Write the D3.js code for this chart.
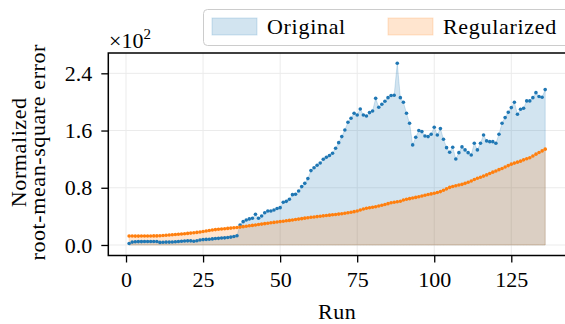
<!DOCTYPE html>
<html>
<head>
<meta charset="utf-8">
<script src="https://cdn.jsdelivr.net/npm/d3@7"></script>
<style>
  body { margin: 0; background: #fff; }
  svg text { font-family: "Liberation Serif", "DejaVu Serif", serif; fill: #000; }
</style>
</head>
<body>
<svg id="chart" width="565" height="324"></svg>
<script>
// Values are in units of 10^2 (see the "x10^2" note on the y axis)
var original = [
  0.020, 0.040, 0.045, 0.047, 0.047, 0.048, 0.048, 0.048, 0.048, 0.048,
  0.036, 0.038, 0.040, 0.040, 0.042, 0.045, 0.048, 0.052, 0.056, 0.058,
  0.058, 0.052, 0.060, 0.070, 0.075, 0.078, 0.080, 0.085, 0.090, 0.093,
  0.097, 0.100, 0.105, 0.110, 0.118, 0.130, 0.280, 0.326, 0.350, 0.365,
  0.373, 0.430, 0.373, 0.405, 0.450, 0.475, 0.475, 0.490, 0.510, 0.522,
  0.597, 0.610, 0.640, 0.704, 0.709, 0.755, 0.816, 0.862, 0.928, 1.040,
  1.080, 1.114, 1.147, 1.198, 1.226, 1.250, 1.282, 1.352, 1.431, 1.515,
  1.608, 1.716, 1.772, 1.841, 1.818, 1.902, 1.818, 1.804, 1.851, 1.874,
  2.050, 1.925, 1.967, 2.009, 2.060, 2.089, 2.093, 2.540, 2.060, 1.995,
  1.841, 1.702, 1.399, 1.506, 1.600, 1.585, 1.524, 1.515, 1.548, 1.646,
  1.538, 1.627, 1.478, 1.361, 1.296, 1.366, 1.203, 1.291, 1.371, 1.329,
  1.291, 1.259, 1.422, 1.329, 1.422, 1.538, 1.455, 1.445, 1.445, 1.422,
  1.548, 1.702, 1.781, 1.855, 1.921, 1.995, 1.828, 1.897, 1.911, 2.014,
  2.014, 2.060, 2.130, 2.075, 2.065, 2.172
];
var regularized = [
  0.125, 0.125, 0.124, 0.124, 0.125, 0.125, 0.126, 0.126, 0.127, 0.127,
  0.130, 0.133, 0.136, 0.140, 0.143, 0.147, 0.151, 0.154, 0.158, 0.162,
  0.166, 0.171, 0.176, 0.182, 0.189, 0.196, 0.203, 0.210, 0.215, 0.220,
  0.224, 0.228, 0.232, 0.236, 0.240, 0.245, 0.250, 0.256, 0.262, 0.268,
  0.274, 0.280, 0.286, 0.292, 0.298, 0.304, 0.310, 0.316, 0.321, 0.327,
  0.332, 0.338, 0.344, 0.350, 0.356, 0.362, 0.368, 0.375, 0.381, 0.387,
  0.392, 0.397, 0.402, 0.407, 0.412, 0.417, 0.422, 0.427, 0.432, 0.437,
  0.443, 0.450, 0.458, 0.466, 0.475, 0.490, 0.503, 0.513, 0.520, 0.527,
  0.534, 0.545, 0.556, 0.566, 0.578, 0.590, 0.598, 0.604, 0.612, 0.628,
  0.640, 0.648, 0.656, 0.665, 0.675, 0.685, 0.695, 0.705, 0.714, 0.723,
  0.734, 0.746, 0.765, 0.785, 0.805, 0.818, 0.828, 0.838, 0.848, 0.862,
  0.877, 0.895, 0.915, 0.932, 0.948, 0.963, 0.980, 1.000, 1.018, 1.035,
  1.053, 1.070, 1.090, 1.110, 1.130, 1.145, 1.158, 1.172, 1.190, 1.205,
  1.220, 1.245, 1.270, 1.292, 1.315, 1.340
];
var xTicks = [0, 25, 50, 75, 100, 125];
var yTicks = [0.0, 0.8, 1.6, 2.4];
var seriesNames = ["Original", "Regularized"];
var colors = ["#1f77b4", "#ff7f0e"];

var runs = d3.range(1, original.length + 1);

var svg = d3.select("#chart");

var plotLeft = 108.3, plotRight = 566, plotTop = 53, plotBottom = 255.5;

var x = d3.scaleLinear().domain([-5.75, 142.75]).range([plotLeft, plotRight]);
var y = d3.scaleLinear().domain([-0.147, 2.684]).range([plotBottom, plotTop]);

// grid
var grid = svg.append("g");
grid.selectAll(".gx").data(xTicks).enter().append("line")
  .attr("x1", d => x(d)).attr("x2", d => x(d))
  .attr("y1", plotTop).attr("y2", plotBottom)
  .attr("stroke", "#ebebeb").attr("stroke-width", 1);
grid.selectAll(".gy").data(yTicks).enter().append("line")
  .attr("x1", plotLeft).attr("x2", plotRight)
  .attr("y1", d => y(d)).attr("y2", d => y(d))
  .attr("stroke", "#ebebeb").attr("stroke-width", 1);

var area = d3.area()
  .x((d, i) => x(runs[i]))
  .y0(y(0))
  .y1(d => y(d));

[original, regularized].forEach(function (vals, k) {
  svg.append("path")
    .datum(vals)
    .attr("d", area)
    .attr("fill", colors[k])
    .attr("fill-opacity", 0.2)
    .attr("stroke", colors[k])
    .attr("stroke-opacity", 0.2)
    .attr("stroke-width", 1);
});

[original, regularized].forEach(function (vals, k) {
  svg.append("g").selectAll("circle")
    .data(vals)
    .enter().append("circle")
    .attr("cx", (d, i) => x(runs[i]))
    .attr("cy", d => y(d))
    .attr("r", 1.8)
    .attr("fill", colors[k]);
});

// axes
var xAxis = svg.append("g")
  .attr("transform", "translate(0," + plotBottom + ")")
  .call(d3.axisBottom(x).tickValues(xTicks).tickSize(7).tickPadding(9).tickFormat(d3.format("d")));
var yAxis = svg.append("g")
  .attr("transform", "translate(" + plotLeft + ",0)")
  .call(d3.axisLeft(y).tickValues(yTicks).tickSize(7).tickPadding(9).tickFormat(d3.format(".1f")));
[xAxis, yAxis].forEach(function (a) {
  a.select(".domain").remove();
  a.selectAll("line").attr("stroke", "#000").attr("stroke-width", 1.3);
  a.selectAll("text").style("font-size", "22px")
    .style("font-family", "'Liberation Serif', serif");
});

// spines
svg.append("rect")
  .attr("x", plotLeft).attr("y", plotTop)
  .attr("width", plotRight - plotLeft).attr("height", plotBottom - plotTop)
  .attr("fill", "none").attr("stroke", "#000").attr("stroke-width", 1.5);

// axis labels
svg.append("text")
  .attr("x", (plotLeft + plotRight) / 2).attr("y", 319)
  .attr("text-anchor", "middle")
  .style("font-size", "22px")
  .style("letter-spacing", "0.6px")
  .text("Run");

var yl = svg.append("text")
  .attr("transform", "translate(0," + ((plotTop + plotBottom) / 2 - 2) + ") rotate(-90)")
  .attr("text-anchor", "middle")
  .style("font-size", "22px")
  .style("letter-spacing", "0.6px");
yl.append("tspan").attr("x", 0).attr("y", 26).text("Normalized");
yl.append("tspan").attr("x", 0).attr("y", 45).text("root-mean-square error");

// offset note
var off = svg.append("text")
  .attr("x", 109).attr("y", 48)
  .style("font-size", "22px");
off.append("tspan").text("\u00d710");
off.append("tspan").attr("dy", -9).style("font-size", "15px").text("2");

// legend
var lg = svg.append("g");
lg.append("rect")
  .attr("x", 203.5).attr("y", 9.5)
  .attr("width", 380).attr("height", 36)
  .attr("rx", 4)
  .attr("fill", "#fff").attr("fill-opacity", 0.8)
  .attr("stroke", "#cccccc").attr("stroke-width", 1);
var legX = [212, 388];
seriesNames.forEach(function (name, k) {
  lg.append("rect")
    .attr("x", legX[k]).attr("y", 18)
    .attr("width", 45).attr("height", 17)
    .attr("fill", colors[k]).attr("fill-opacity", 0.2)
    .attr("stroke", colors[k]).attr("stroke-opacity", 0.2);
  lg.append("text")
    .attr("x", legX[k] + 55).attr("y", 34)
    .style("font-size", "22px")
    .style("letter-spacing", "0.7px")
    .text(name);
});
</script>
</body>
</html>
